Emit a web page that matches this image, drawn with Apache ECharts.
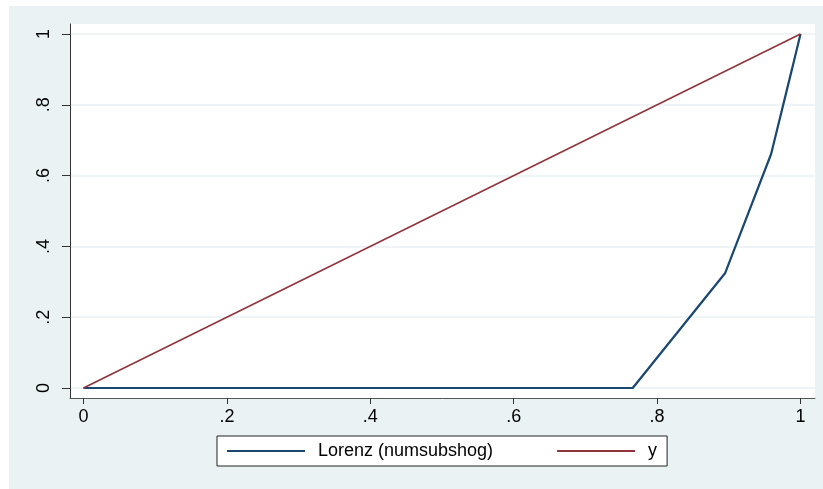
<!DOCTYPE html>
<html>
<head>
<meta charset="utf-8">
<script src="https://cdn.jsdelivr.net/npm/echarts@6/dist/echarts.min.js"></script>
<style>
html,body{margin:0;padding:0;background:#fff;}
#c{position:absolute;left:9px;top:6px;width:814px;height:483px;}
</style>
</head>
<body>
<div id="c"></div>
<script>
// Lorenz curve (cumulative population share, cumulative share)
const lorenzX = [0, 0.766, 0.895, 0.959, 0.988, 1];
const lorenzY = [0, 0, 0.325, 0.661, 0.9, 1];
// Equality line y = x
const eqX = [0, 1];
const eqY = [0, 1];
const tickValues = [0, 0.2, 0.4, 0.6, 0.8, 1];
const tickLabels = ['0', '.2', '.4', '.6', '.8', '1'];
const seriesNames = ['Lorenz (numsubshog)', 'y'];

const fmt = v => {
  const i = tickValues.findIndex(t => Math.abs(t - v) < 1e-9);
  return i >= 0 ? tickLabels[i] : '';
};
const font = 'Liberation Sans, Arial, sans-serif';

const chart = echarts.init(document.getElementById('c'), null, {renderer: 'canvas'});
chart.setOption({
  backgroundColor: '#eaf2f3',
  animation: false,
  grid: {
    left: 61, right: 8, top: 18, bottom: 91,
    show: true, backgroundColor: '#ffffff', borderWidth: 0
  },
  xAxis: {
    type: 'value',
    min: -0.0188, max: 1.0202,
    axisLine: {show: true, onZero: false, lineStyle: {color: '#555', width: 1}},
    axisTick: {show: true, length: 6, customValues: tickValues, lineStyle: {color: '#333'}},
    axisLabel: {customValues: tickValues, formatter: fmt, margin: 10, color: '#000', fontSize: 18, fontFamily: font},
    splitLine: {show: false}
  },
  yAxis: {
    type: 'value',
    min: -0.0282, max: 1.0282,
    axisLine: {show: true, onZero: false, lineStyle: {color: '#333', width: 1}},
    axisTick: {show: true, length: 8, customValues: tickValues, lineStyle: {color: '#333'}},
    axisLabel: {customValues: tickValues, formatter: fmt, margin: 17, rotate: 90, color: '#000', fontSize: 18, fontFamily: font},
    splitLine: {show: true, lineStyle: {color: '#eaf2f3', width: 1.5}}
  },
  legend: {
    left: 208, top: 430,
    orient: 'horizontal',
    backgroundColor: '#fff',
    borderColor: '#222', borderWidth: 1,
    padding: [6, 10, 6, 10],
    itemGap: 64,
    itemWidth: 78, itemHeight: 2,
    icon: 'rect',
    selectedMode: false,
    textStyle: {fontSize: 18, fontFamily: font, color: '#000', padding: [0, 0, 0, 8]},
    data: seriesNames
  },
  series: [
    {
      name: seriesNames[0], type: 'line', showSymbol: false,
      color: '#1a476f',
      lineStyle: {color: '#1a476f', width: 2.2},
      data: lorenzX.map((x, i) => [x, lorenzY[i]])
    },
    {
      name: seriesNames[1], type: 'line', showSymbol: false,
      color: '#90353b',
      lineStyle: {color: '#90353b', width: 1.6},
      data: eqX.map((x, i) => [x, eqY[i]])
    }
  ]
});
</script>
</body>
</html>
